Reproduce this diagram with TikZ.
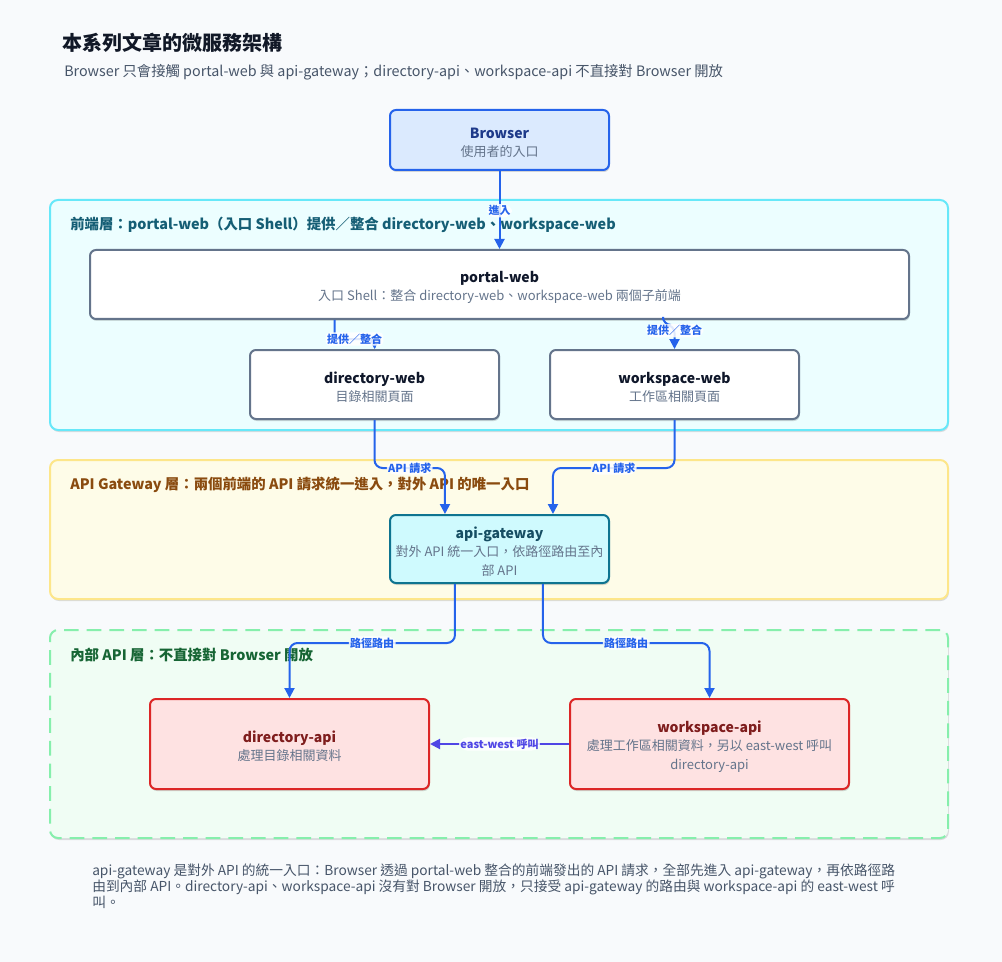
\documentclass[tikz,border=0pt]{standalone}
\usepackage{fontspec}
\setmainfont{Noto Sans CJK TC}
\usetikzlibrary{arrows.meta,shadows,calc}
\definecolor{bgc}{HTML}{F8FAFC}
\definecolor{titlec}{HTML}{111827}
\definecolor{subtitlec}{HTML}{475569}
\definecolor{subc}{HTML}{64748B}
\definecolor{conn}{HTML}{2563EB}
\definecolor{ewc}{HTML}{4F46E5}
\definecolor{brfill}{HTML}{DBEAFE}
\definecolor{brdraw}{HTML}{2563EB}
\definecolor{brtext}{HTML}{1E3A8A}
\definecolor{frdraw}{HTML}{67E8F9}
\definecolor{frfill}{HTML}{ECFEFF}
\definecolor{frtext}{HTML}{155E75}
\definecolor{webdraw}{HTML}{64748B}
\definecolor{webtext}{HTML}{0F172A}
\definecolor{gwldraw}{HTML}{FDE68A}
\definecolor{gwlfill}{HTML}{FEFCE8}
\definecolor{gwltext}{HTML}{8A4B0F}
\definecolor{gwfill}{HTML}{CFFAFE}
\definecolor{gwdraw}{HTML}{0E7490}
\definecolor{gwtext}{HTML}{164E63}
\definecolor{indraw}{HTML}{86EFAC}
\definecolor{infill}{HTML}{F0FDF4}
\definecolor{intext}{HTML}{166534}
\definecolor{apifill}{HTML}{FEE2E2}
\definecolor{apidraw}{HTML}{DC2626}
\definecolor{apitext}{HTML}{7F1D1D}
\newcommand\nodetxt[2]{{\bfseries\fontsize{10.5pt}{13.5pt}\selectfont\rule{0pt}{12.5pt}#1}\\[0.3pt]\color{subc}#2}
\newcommand\subl{\color{subc}}
\begin{document}
\begin{tikzpicture}[x=0.75pt,y=-0.75pt,
  layer/.style={line width=1.5pt, rounded corners=6pt, minimum width=673.5pt, inner sep=0pt,
    drop shadow={shadow xshift=0.6pt, shadow yshift=-1.5pt, opacity=0.12, fill=black}},
  layerlabel/.style={anchor=west, inner sep=0pt, font=\bfseries\fontsize{10.8pt}{13pt}\selectfont},
  box/.style={draw, line width=1.5pt, rounded corners=4.5pt, align=center, inner sep=0pt,
    font=\fontsize{9.75pt}{13.5pt}\selectfont,
    drop shadow={shadow xshift=0.6pt, shadow yshift=-1.5pt, opacity=0.15, fill=black}},
  conn/.style={draw=conn, line width=1.5pt, rounded corners=6pt, -{Triangle[length=7.5pt,width=7.5pt]}},
  elab/.style={font=\bfseries\fontsize{8.25pt}{10pt}\selectfont, text=conn, fill=white, fill opacity=0.85, text opacity=1, inner sep=1pt}
]
\useasboundingbox[fill=bgc] (0,0) rectangle (1002,962);

% title
\node[anchor=west, inner sep=0pt, text=titlec, font=\bfseries\fontsize{15pt}{18pt}\selectfont] (title) at (62,43) {本系列文章的微服務架構};
\node[anchor=west, inner sep=0pt, text=subtitlec, font=\fontsize{10.75pt}{13pt}\selectfont] (subtitle) at (64,72) {Browser 只會接觸 portal-web 與 api-gateway；directory-api、workspace-api 不直接對 Browser 開放};

% layers
\node[layer, draw=frdraw, fill=frfill, minimum height=172.5pt] (front) at (499,315) {};
\node[layerlabel, text=frtext] (frontlab) at (70,225) {前端層：portal-web（入口 Shell）提供／整合 directory-web、workspace-web};
\node[layer, draw=gwldraw, fill=gwlfill, minimum height=104.25pt] (gwlayer) at (499,529.5) {};
\node[layerlabel, text=gwltext] (gwlab) at (70,485) {API Gateway 層：兩個前端的 API 請求統一進入，對外 API 的唯一入口};
\node[layer, draw=indraw, fill=infill, minimum height=156pt, dash pattern=on 11pt off 6pt] (inner) at (499,734) {};
\node[layerlabel, text=intext] (innerlab) at (70,655) {內部 API 層：不直接對 Browser 開放};

% nodes
\node[box, draw=brdraw, fill=brfill, text=brtext, minimum width=164.25pt, minimum height=45pt] (browser) at (499.5,140) {\nodetxt{Browser}{使用者的入口}};
\node[box, draw=webdraw, fill=white, text=webtext, minimum width=614.25pt, minimum height=51.75pt] (portal) at (499.5,284.5) {\nodetxt{portal-web}{入口 Shell：整合 directory-web、workspace-web 兩個子前端}};
\node[box, draw=webdraw, fill=white, text=webtext, minimum width=186.75pt, minimum height=51.75pt] (dirweb) at (374.5,384.5) {\nodetxt{directory-web}{目錄相關頁面}};
\node[box, draw=webdraw, fill=white, text=webtext, minimum width=186.75pt, minimum height=51.75pt] (wsweb) at (674.5,384.5) {\nodetxt{workspace-web}{工作區相關頁面}};
\node[box, draw=gwdraw, fill=gwfill, text=gwtext, minimum width=164.25pt, minimum height=51pt] (gw) at (499.5,549) {\nodetxt{api-gateway}{對外 API 統一入口，依路徑路由至內\\[0.3pt]\subl 部 API}};
\node[box, draw=apidraw, fill=apifill, text=apitext, minimum width=209.25pt, minimum height=67.5pt] (dirapi) at (289.5,744) {\nodetxt{directory-api}{處理目錄相關資料}};
\node[box, draw=apidraw, fill=apifill, text=apitext, minimum width=209.25pt, minimum height=67.5pt] (wsapi) at (709.5,744) {\nodetxt{workspace-api}{處理工作區相關資料，另以 east-west 呼叫\\[0.3pt]\subl directory-api}};

% connectors
\draw[conn] (browser.south) -- node[pos=0.51, elab] {進入} (portal.north);
\draw[conn, rounded corners=3pt] ([xshift=-30pt]dirweb.north |- portal.south) -- ++(0,19) -| node[pos=0.25, elab] {提供／整合} (dirweb.north);
\draw[conn] ([xshift=-8.6pt]wsweb.north |- portal.south) -- ++(0,5) -| node[pos=0.62, elab] {提供／整合} (wsweb.north);
\draw[conn] (dirweb.south) -- ++(0,48) -| node[pos=0.25, elab] {API 請求} ([xshift=-40.9pt]gw.north);
\draw[conn] (wsweb.south) -- ++(0,48) -| node[pos=0.25, elab] {API 請求} ([xshift=40.1pt]gw.north);
\draw[conn] ([xshift=-33.4pt]gw.south) -- ++(0,59) -| node[pos=0.25, elab] {路徑路由} (dirapi.north);
\draw[conn] ([xshift=32.6pt]gw.south) -- ++(0,59) -| node[pos=0.25, elab] {路徑路由} (wsapi.north);
\draw[conn, draw=ewc] (wsapi.west) -- node[elab, text=ewc] {east-west 呼叫} (dirapi.east);

% footer
\node[anchor=north west, inner sep=0pt, align=left, text=subtitlec, font=\fontsize{10.3pt}{12pt}\selectfont] (foot) at (92,864) {api-gateway 是對外 API 的統一入口：Browser 透過 portal-web 整合的前端發出的 API 請求，全部先進入 api-gateway，再依路徑路\\由到內部 API。directory-api、workspace-api 沒有對 Browser 開放，只接受 api-gateway 的路由與 workspace-api 的 east-west 呼\\叫。};
\end{tikzpicture}
\end{document}
